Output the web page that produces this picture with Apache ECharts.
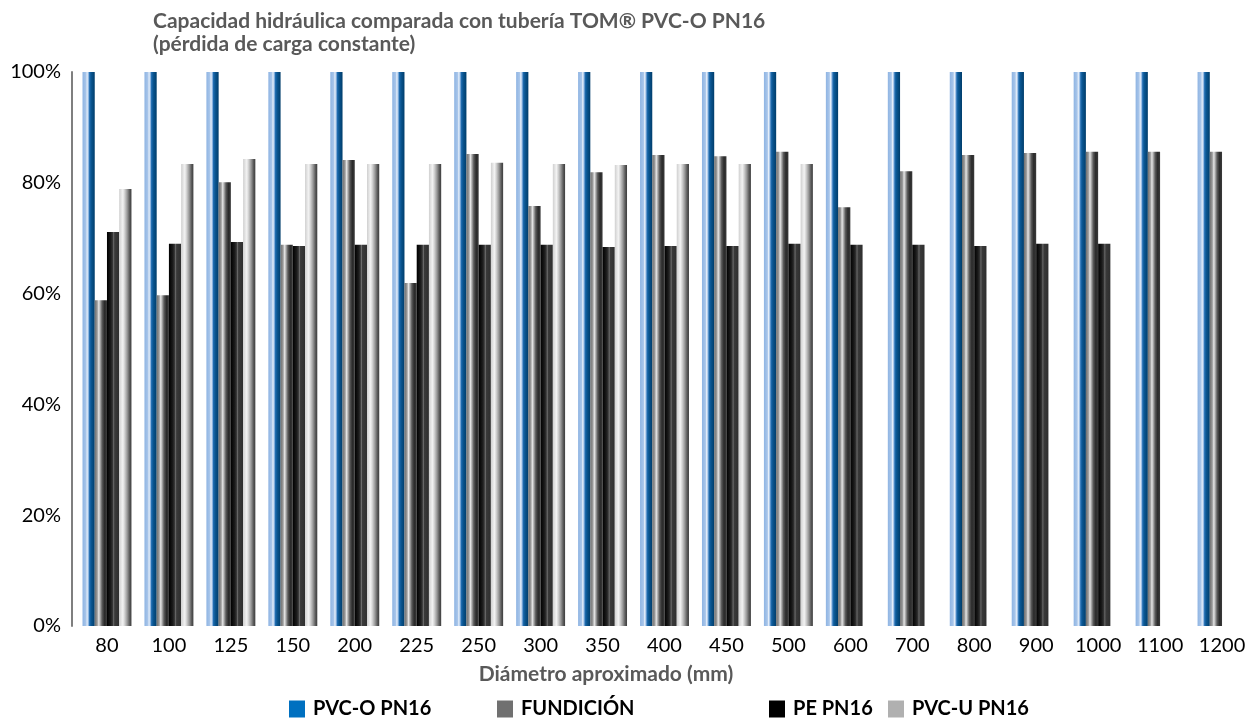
<!DOCTYPE html>
<html>
<head>
<meta charset="utf-8">
<script src="https://cdn.jsdelivr.net/npm/echarts@6/dist/echarts.min.js"></script>
<style>
html,body{margin:0;padding:0;background:#fff;}
#chart{width:1256px;height:722px;}
</style>
</head>
<body>
<div id="chart"></div>
<script>
const categories = ['80','100','125','150','200','225','250','300','350','400','450','500','600','700','800','900','1000','1100','1200'];
const pvcO = [100,100,100,100,100,100,100,100,100,100,100,100,100,100,100,100,100,100,100];
const fundicion = [58.8,59.7,80.1,68.8,84.1,61.9,85.2,75.8,81.9,85.0,84.8,85.6,75.6,82.1,85.0,85.4,85.6,85.6,85.6];
const pe = [71.1,69.0,69.3,68.6,68.8,68.8,68.8,68.8,68.4,68.6,68.6,69.0,68.8,68.8,68.6,69.0,69.0,null,null];
const pvcU = [78.9,83.4,84.3,83.4,83.4,83.4,83.6,83.4,83.2,83.4,83.4,83.4,null,null,null,null,null,null,null];
const yTicks = [0,20,40,60,80,100];
const seriesNames = ['PVC-O PN16','FUNDICIÓN','PE PN16','PVC-U PN16'];

const FONT = 'Lato';
function grad(stops){
  return {type:'linear',x:0,y:0,x2:1,y2:0,colorStops:stops.map(s=>({offset:s[0],color:s[1]}))};
}
const gBlue = grad([[0,'#8eb4e3'],[0.28,'#a9c6ea'],[0.38,'#e8f0fa'],[0.48,'#9dbfe6'],[0.58,'#1f6cb0'],[0.72,'#0a5590'],[1,'#003d6b']]);
const gGrey = grad([[0,'#6e6e6e'],[0.2,'#9a9a9a'],[0.33,'#e6e6e6'],[0.45,'#a8a8a8'],[0.6,'#5a5a5a'],[0.8,'#2a2a2a'],[1,'#3a3a3a']]);
const gBlack = grad([[0,'#000000'],[0.3,'#1a1a1a'],[0.45,'#333333'],[0.55,'#6a6a6a'],[0.63,'#3a3a3a'],[1,'#2e2e2e']]);
const gLight = grad([[0,'#cfcfcf'],[0.2,'#e8e8e8'],[0.3,'#f2f2f2'],[0.45,'#d0d0d0'],[0.65,'#9a9a9a'],[0.85,'#5a5a5a'],[1,'#3c3c3c']]);

const legendColors = ['#0070c0','#707070','#000000','#b0b0b0'];
const legendLefts = [289,497,769,888];

function mkLegend(i){
  return {
    show:true, left:legendLefts[i], top:699, padding:0,
    icon:'rect', itemWidth:16, itemHeight:17,
    selectedMode:false,
    data:[{name:seriesNames[i], itemStyle:{color:legendColors[i]}}],
    textStyle:{fontFamily:FONT,fontSize:20,fontWeight:'bold',color:'#000',padding:[0,0,0,3]}
  };
}

const chart = echarts.init(document.getElementById('chart'));
chart.setOption({
  backgroundColor:'#fff',
  animation:false,
  title:[
    {text:'Capacidad hidráulica comparada con tubería TOM® PVC-O PN16\n(pérdida de carga constante)',
     left:153, top:10, padding:0,
     textStyle:{fontFamily:FONT,fontSize:21,fontWeight:'bold',color:'#595959',lineHeight:23}},
    {text:'Diámetro aproximado (mm)', left:606, top:664, padding:0, textAlign:'center',
     textStyle:{fontFamily:FONT,fontSize:21,fontWeight:'bold',color:'#595959'}}
  ],
  legend:[mkLegend(0),mkLegend(1),mkLegend(2),mkLegend(3)],
  grid:{left:76,right:3,top:72,bottom:96,containLabel:false},
  xAxis:{
    type:'category', data:categories,
    axisLine:{show:false}, axisTick:{show:false},
    axisLabel:{fontFamily:FONT,fontSize:20,color:'#000',margin:10,interval:0}
  },
  yAxis:{
    type:'value', min:0, max:100, interval:20, offset:4,
    axisLine:{show:true,lineStyle:{color:'#7f7f7f',width:2}},
    axisTick:{show:false}, splitLine:{show:false},
    axisLabel:{fontFamily:FONT,fontSize:20,color:'#000',margin:11,formatter:v=>v+'%'}
  },
  series:[
    {name:seriesNames[0],type:'bar',data:pvcO,barGap:'0%',barCategoryGap:'21%',itemStyle:{color:gBlue}},
    {name:seriesNames[1],type:'bar',data:fundicion,barGap:'0%',barCategoryGap:'21%',itemStyle:{color:gGrey}},
    {name:seriesNames[2],type:'bar',data:pe,barGap:'0%',barCategoryGap:'21%',itemStyle:{color:gBlack}},
    {name:seriesNames[3],type:'bar',data:pvcU,barGap:'0%',barCategoryGap:'21%',itemStyle:{color:gLight}}
  ]
});
</script>
</body>
</html>
